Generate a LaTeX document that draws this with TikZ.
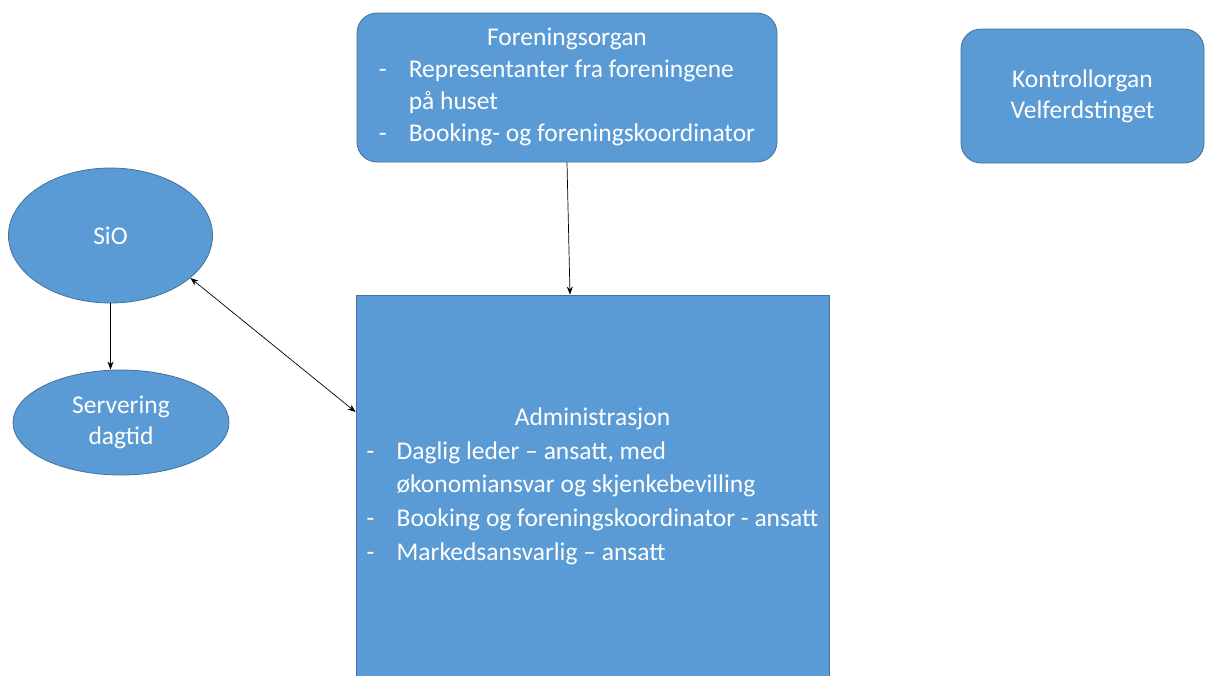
\documentclass[tikz,border=0pt]{standalone}
\usepackage{fontspec}
\setmainfont{Carlito}
\usepackage{array}
\usetikzlibrary{shapes.geometric,arrows.meta,positioning}
\definecolor{boxblue}{HTML}{5B9BD5}
\definecolor{edgeblue}{HTML}{41719C}

\begin{document}
\begin{tikzpicture}[x=1pt,y=-1pt,>={Stealth[length=8pt,width=6pt]},
  org/.style={fill=boxblue,draw=edgeblue,line width=.8pt,text=white,inner sep=0pt,font=\fontsize{25.5}{32}\selectfont},
  roundbox/.style={org,rectangle,rounded corners=20pt},
  oval/.style={org,ellipse},
  arr/.style={->,line width=.7pt}]
  \useasboundingbox (0,0) rectangle (1205,675);
  \node[roundbox,minimum width=420pt,minimum height=149pt] (foren) at (567,87.5) {\begin{tabular}{@{}p{30pt}@{}l@{}}\multicolumn{2}{c}{Foreningsorgan}\\ - & Representanter fra foreningene\\ & på huset\\ - & Booking- og foreningskoordinator\end{tabular}};
  \node[roundbox,minimum width=243pt,minimum height=134pt,align=center,font=\fontsize{25.5}{31}\selectfont] (kontroll) at (1082.5,96) {Kontrollorgan\\Velferdstinget};
  \node[oval,minimum width=204pt,minimum height=135pt] (sio) at (110.5,235.5) {SiO};
  \node[oval,minimum width=216pt,minimum height=105pt,align=center,font=\fontsize{25.5}{31}\selectfont] (serv) at (121,422.5) {Servering\\dagtid};
  \node[org,rectangle,minimum width=473pt,minimum height=382pt,font=\fontsize{25.5}{33.7}\selectfont] (admin) at (592.5,486) {\begin{tabular}{@{}p{30pt}@{}l@{}}\multicolumn{2}{c}{Administrasjon}\\ - & Daglig leder – ansatt, med\\ & økonomiansvar og skjenkebevilling\\ - & Booking og foreningskoordinator - ansatt\\ - & Markedsansvarlig – ansatt\end{tabular}};
  \draw[arr] (foren.south) -- ([xshift=-22.5pt]admin.north);
  \draw[arr] (sio.south) -- (sio.south |- serv.north);
  \draw[arr,<->] (sio.-28) -- ([yshift=74pt]admin.west);
\end{tikzpicture}
\end{document}
